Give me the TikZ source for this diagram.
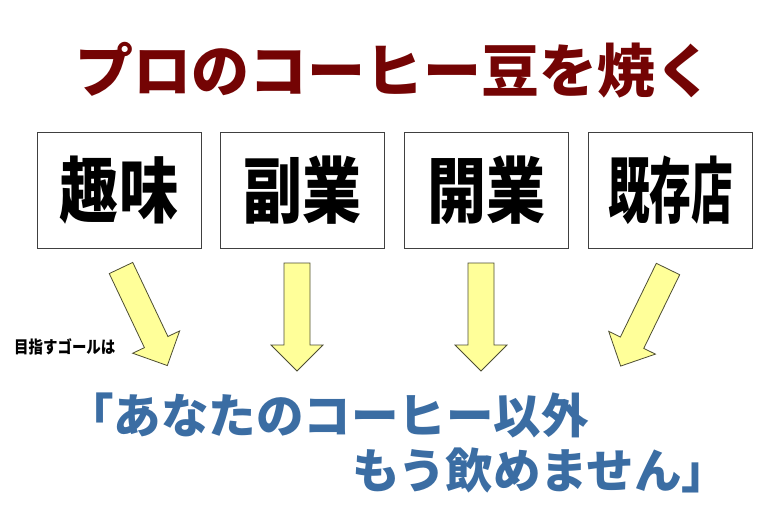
\documentclass[tikz,border=0pt]{standalone}
\usepackage{fontspec}
\usepackage{graphicx}
\usepackage{xcolor}
\usetikzlibrary{positioning}
\newfontfamily\jpfont{Noto Sans CJK JP}

\definecolor{titlered}{HTML}{740404}
\definecolor{goalblue}{HTML}{3B6DA3}
\definecolor{arrowfill}{HTML}{FFFF99}
\definecolor{arrowline}{HTML}{4D4D33}
\definecolor{boxline}{HTML}{404040}

\tikzset{
  pathbox/.style={draw=boxline, line width=0.9pt, fill=white,
    minimum width=164pt, minimum height=116pt, inner sep=0pt,
    font=\jpfont\bfseries\fontsize{72}{72}\selectfont},
  fatarrow/.style={fill=arrowfill, draw=arrowline, line width=0.8pt, line join=miter},
  goaltext/.style={anchor=west, inner sep=0pt, text=goalblue,
    font=\jpfont\bfseries\fontsize{47.5}{50}\selectfont}
}

\begin{document}
\begin{tikzpicture}[x=1pt, y=-1pt]
  \useasboundingbox[fill=white] (0,0) rectangle (781,517);

  \node[text=titlered, font=\jpfont\bfseries\fontsize{58}{60}\selectfont] (title) at (394,70) {プロのコーヒー豆を焼く};

  \node[pathbox] (hobby) at (119,190) {\scalebox{0.82}[1]{趣味}};
  \node[pathbox, right=19pt of hobby] (side) {\scalebox{0.82}[1]{副業}};
  \node[pathbox, right=19pt of side] (open) {\scalebox{0.82}[1]{開業}};
  \node[pathbox, right=19pt of open] (shop) {\scalebox{0.58}[1]{既存店}};

  \foreach \px/\py/\ang in {121/268/25.4, 297/263/0, 481/263/0, 668/269/-26}
    \draw[fatarrow, shift={(\px,\py)}, rotate=\ang]
      (-13,0) -- (13,0) -- (13,82) -- (26,82) -- (0,108) -- (-26,82) -- (-13,82) -- cycle;

  \node[anchor=west, inner sep=0pt, font=\jpfont\bfseries\fontsize{17}{17}\selectfont] (aim) at (14,347) {\scalebox{0.85}[1]{目指すゴールは}};

  \node[goaltext] (goalA) at (66,415) {「あなたのコーヒー以外};
  \node[goaltext] (goalB) at (352,470) {もう飲めません」};
\end{tikzpicture}
\end{document}
